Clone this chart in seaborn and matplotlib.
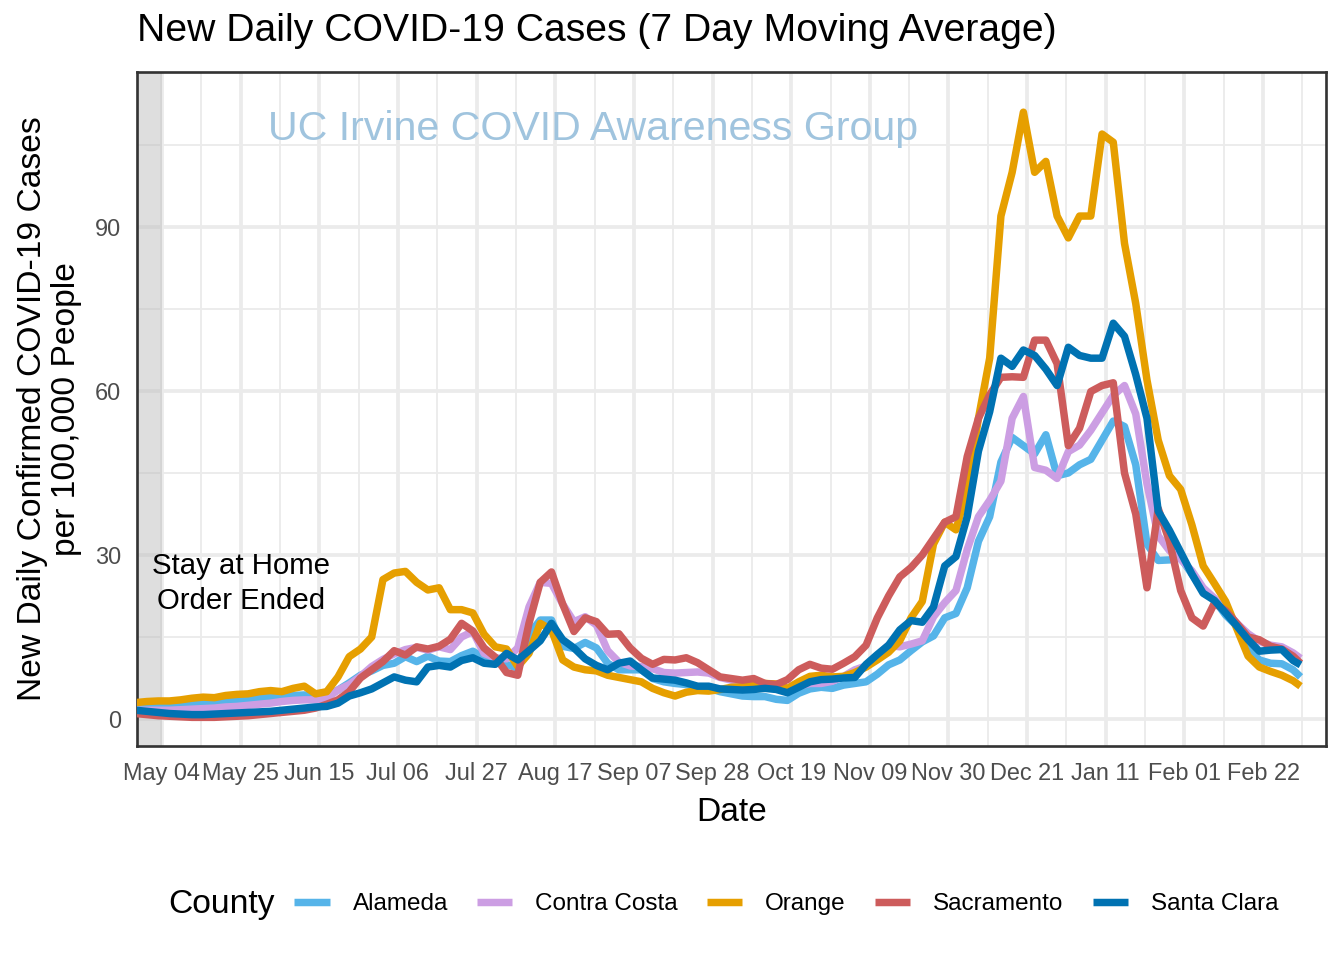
import matplotlib
matplotlib.use("Agg")
import matplotlib.pyplot as plt
import matplotlib.dates as mdates
from matplotlib.lines import Line2D
from matplotlib.ticker import FixedLocator
import numpy as np
import pandas as pd
import seaborn as sns

# ---------------- data (every 3 days + last day) ----------------
dates = list(pd.date_range("2020-04-27", "2021-03-02", freq="3D")) + [pd.Timestamp("2021-03-04")]

counties = ["Alameda", "Contra Costa", "Orange", "Sacramento", "Santa Clara"]

alameda = [2.4, 2.5, 2.5, 2.6, 2.7, 2.8, 2.9, 3.0, 3.2, 3.4,
           3.6, 3.8, 4.0, 4.1, 4.3, 4.4, 3.9, 4.3, 5.3, 6.6,
           8.0, 8.8, 9.8, 10.2, 11.4, 10.5, 11.5, 10.6, 10.5, 11.6,
           12.4, 11.2, 10.6, 10.0, 9.3, 15.5, 18.1, 18.1, 13.3, 12.9,
           14.0, 13.0, 10.2, 9.0, 9.0, 9.0, 7.4, 6.8, 6.5, 6.3,
           5.9, 5.6, 5.0, 4.6, 4.2, 4.1, 4.1, 3.6, 3.4, 4.7,
           5.5, 5.8, 5.6, 6.2, 6.5, 6.8, 8.2, 9.9, 10.8, 12.5,
           14.1, 15.2, 18.5, 19.3, 24.0, 32.5, 37.0, 47.0, 51.5, 50.0,
           48.5, 52.0, 44.5, 45.0, 46.5, 47.5, 51.0, 54.5, 53.5, 46.5,
           32.0, 29.0, 29.1, 29.5, 26.5, 23.5, 21.8, 19.0, 17.0, 13.0,
           10.8, 10.2, 10.1, 9.0, 7.7]

contra_costa = [1.6, 1.6, 1.6, 1.6, 1.7, 1.8, 1.9, 2.0, 2.2, 2.3,
                2.5, 2.7, 2.9, 3.2, 3.4, 3.5, 3.5, 3.8, 5.3, 6.3,
                7.8, 9.6, 10.9, 11.9, 12.7, 13.1, 12.6, 13.2, 12.7, 15.0,
                16.0, 12.0, 11.2, 11.0, 13.0, 20.5, 25.0, 24.8, 21.0, 17.8,
                18.7, 17.2, 12.5, 10.4, 9.7, 9.6, 9.2, 8.5, 8.4, 8.5,
                8.6, 8.4, 7.6, 7.1, 6.8, 6.5, 6.1, 5.8, 5.3, 6.0,
                6.5, 6.5, 6.9, 7.8, 9.0, 9.7, 11.6, 13.5, 13.2, 13.7,
                14.3, 18.7, 21.3, 23.5, 31.0, 37.0, 40.0, 43.5, 55.0, 59.0,
                46.0, 45.5, 44.0, 48.9, 50.1, 52.8, 56.0, 59.2, 61.0, 55.8,
                43.0, 33.5, 30.8, 29.2, 27.1, 24.0, 22.1, 19.9, 17.5, 15.6,
                14.2, 13.5, 13.2, 12.1, 11.1]

orange = [3.0, 3.2, 3.3, 3.3, 3.5, 3.8, 4.0, 3.9, 4.3, 4.5,
          4.6, 5.0, 5.2, 5.0, 5.6, 6.0, 4.6, 5.0, 7.7, 11.4,
          12.8, 15.0, 25.5, 26.7, 27.0, 25.0, 23.6, 24.0, 20.0, 20.0,
          19.4, 15.5, 13.2, 12.8, 9.6, 12.0, 17.5, 16.3, 10.8, 9.5,
          9.0, 8.8, 8.0, 7.6, 7.2, 6.8, 5.6, 4.8, 4.2, 4.9,
          5.2, 5.1, 5.4, 5.8, 5.9, 6.1, 6.5, 6.4, 5.6, 6.8,
          7.8, 8.0, 7.7, 7.8, 8.5, 9.5, 10.8, 12.2, 14.3, 18.5,
          21.5, 32.0, 36.0, 34.6, 42.0, 55.0, 66.0, 92.0, 100.0, 111.0,
          100.0, 102.0, 92.0, 88.0, 92.0, 92.0, 107.0, 105.5, 87.0, 76.0,
          62.0, 51.0, 44.5, 42.0, 35.5, 28.0, 24.8, 21.5, 16.5, 11.5,
          9.5, 8.7, 8.0, 7.0, 6.0]

sacramento = [1.0, 0.8, 0.6, 0.5, 0.4, 0.3, 0.3, 0.3, 0.4, 0.5,
              0.6, 0.8, 1.0, 1.2, 1.4, 1.6, 2.0, 2.7, 3.5, 5.0,
              7.5, 9.0, 10.5, 12.5, 11.7, 13.2, 12.8, 13.3, 14.6, 17.5,
              16.1, 13.0, 11.3, 8.5, 8.0, 17.5, 25.0, 26.9, 21.0, 16.0,
              18.5, 17.8, 15.5, 15.6, 13.0, 11.1, 10.0, 10.9, 10.8, 11.2,
              10.3, 9.0, 7.7, 7.4, 7.1, 7.4, 6.5, 6.3, 7.2, 9.0,
              10.0, 9.3, 9.1, 10.2, 11.4, 13.5, 18.5, 22.5, 26.0, 27.7,
              30.0, 33.0, 36.0, 37.0, 48.0, 55.0, 59.3, 62.5, 62.6, 62.5,
              69.3, 69.3, 65.0, 50.0, 53.2, 59.9, 61.0, 61.5, 45.0, 37.5,
              24.0, 38.5, 32.5, 23.5, 18.5, 17.0, 21.2, 19.8, 17.5, 15.0,
              14.5, 13.3, 12.8, 11.5, 10.2]

santa_clara = [1.6, 1.4, 1.2, 1.0, 0.9, 0.8, 0.8, 0.9, 1.0, 1.1,
               1.2, 1.3, 1.4, 1.6, 1.8, 2.0, 2.2, 2.3, 2.9, 4.2,
               4.8, 5.5, 6.6, 7.7, 7.1, 6.8, 9.5, 9.8, 9.5, 10.7,
               11.2, 10.2, 10.0, 12.0, 10.8, 12.5, 14.3, 17.5, 14.5, 13.0,
               11.0, 9.8, 9.0, 10.2, 10.6, 9.0, 7.5, 7.3, 7.1, 6.6,
               6.0, 6.0, 5.5, 5.4, 5.3, 5.4, 5.6, 5.4, 4.8, 5.8,
               6.8, 7.2, 7.3, 7.5, 7.6, 10.0, 11.8, 13.5, 16.3, 18.0,
               17.7, 20.5, 28.0, 29.7, 37.0, 49.0, 56.2, 66.0, 64.5, 67.5,
               66.5, 64.0, 61.0, 68.0, 66.5, 66.0, 66.0, 72.4, 70.0, 63.0,
               55.0, 38.0, 34.5, 30.5, 26.5, 23.0, 21.7, 19.4, 17.0, 14.5,
               12.4, 12.6, 12.7, 10.7, 9.9]

series = [alameda, contra_costa, orange, sacramento, santa_clara]
colors = ["#56B4E9", "#CC9EE3", "#E69F00", "#CD5C5C", "#0072B2"]

x_tick_dates = pd.date_range("2020-05-04", "2021-02-22", freq="21D")
y_ticks = [0, 30, 60, 90]
order_end = pd.Timestamp("2020-05-04")

# ---------------- figure ----------------
sns.set_style("white")
plt.rcParams["font.family"] = ["Liberation Sans", "DejaVu Sans"]
plt.rcParams["text.color"] = "black"
plt.rcParams["axes.labelcolor"] = "black"

W, H = 1344, 960
fig = plt.figure(figsize=(7, 5), dpi=192)
ax = fig.add_axes([137 / W, 1 - 746 / H, (1326 - 137) / W, (746 - 72) / H])

df = pd.concat([pd.DataFrame({"Date": dates, "Cases": s, "County": c})
                for c, s in zip(counties, series)], ignore_index=True)

sns.lineplot(data=df, x="Date", y="Cases", hue="County", hue_order=counties,
             palette=dict(zip(counties, colors)), linewidth=2.8, legend=False,
             estimator=None, ax=ax, zorder=3, solid_joinstyle="round", solid_capstyle="butt")

x0 = pd.Timestamp("2020-04-27") + pd.Timedelta(hours=8)
x1 = pd.Timestamp("2020-04-27") + pd.Timedelta(days=317.8)
ax.set_xlim(x0, x1)
ax.set_ylim(-4.94, 118.35)

# shaded period before stay at home order ended
ax.axvspan(x0, order_end, color="#BEBEBE", alpha=0.5, lw=0, zorder=2)

# ticks / grid
ax.set_xticks(x_tick_dates)
ax.xaxis.set_major_formatter(mdates.DateFormatter("%b %d"))
minor_x = [d + pd.Timedelta(hours=252) for d in x_tick_dates]
ax.xaxis.set_minor_locator(FixedLocator(mdates.date2num(minor_x)))
ax.set_yticks(y_ticks)
ax.yaxis.set_minor_locator(FixedLocator([15, 45, 75, 105]))

ax.grid(which="major", color="#EBEBEB", linewidth=1.4, zorder=0)
ax.grid(which="minor", color="#EBEBEB", linewidth=0.7, zorder=0)
ax.set_axisbelow(True)
ax.tick_params(which="major", length=2.7, width=1.0, color="#333333",
               labelcolor="#4D4D4D", labelsize=8.8, pad=3.2)
ax.tick_params(which="minor", length=0)
for sp in ax.spines.values():
    sp.set_color("#333333")
    sp.set_linewidth(1.0)

ax.set_xlabel("Date", fontsize=12.6, labelpad=4.5)
ax.set_ylabel("New Daily Confirmed COVID-19 Cases\nper 100,000 People", fontsize=12.6,
              labelpad=5, linespacing=1.12)

# annotations
ax.text(pd.Timestamp("2020-05-25"), 24.8, "Stay at Home\nOrder Ended", fontsize=11,
        ha="center", va="center", color="black", linespacing=1.35, zorder=4)
ax.text(pd.Timestamp("2020-08-27"), 107.9, "UC Irvine COVID Awareness Group", fontsize=15.45,
        ha="center", va="center", color="#A0C4DE", zorder=4)

fig.text(137 / W, 1 - 31 / H, "New Daily COVID-19 Cases (7 Day Moving Average)",
         fontsize=14.7, ha="left", va="center")

# legend
handles = [Line2D([0], [0], color=c, lw=2.8, solid_capstyle="butt") for c in colors]
fig.legend(handles, counties, loc="center", bbox_to_anchor=(786.5 / W, 1 - 904 / H), ncol=5,
           frameon=False, fontsize=9.1, handlelength=1.45, handletextpad=0.95,
           columnspacing=1.2)
fig.text(168 / W, 1 - 904 / H, "County", fontsize=12.6, ha="left", va="center")

fig.savefig("out.png", dpi=192)
